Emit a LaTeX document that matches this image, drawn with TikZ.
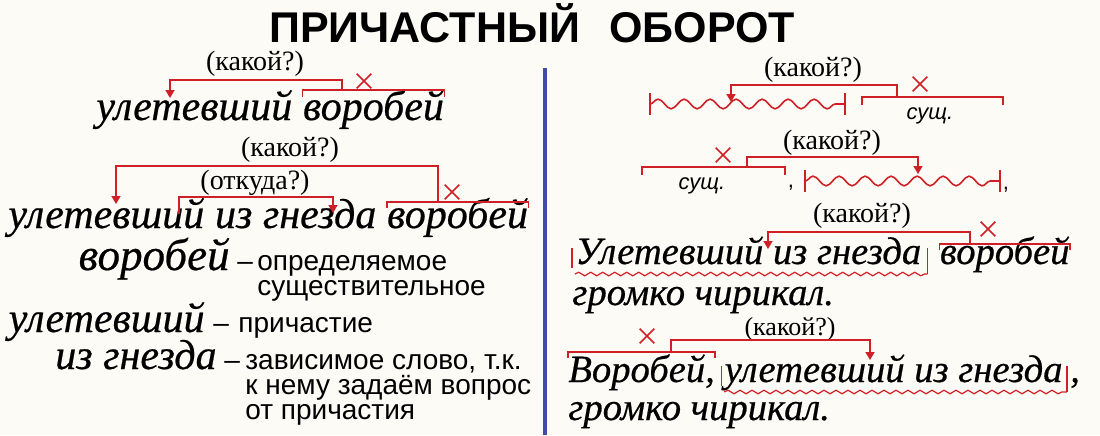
\documentclass[tikz,border=0pt]{standalone}
\usepackage{fontspec}
\setmainfont{Liberation Serif}
\setsansfont{Liberation Sans}
\newfontfamily\cursfont[FakeBold=0.5]{Liberation Serif}
\usetikzlibrary{arrows.meta,positioning,shapes.misc,decorations.pathmorphing}
\definecolor{mark}{RGB}{206,32,38}
\definecolor{divider}{RGB}{66,76,168}
\definecolor{paper}{RGB}{252,251,246}

\begin{document}
\begin{tikzpicture}[x=0.5pt,y=-0.5pt,
  word/.style={font=\cursfont\itshape\fontsize{21}{22}\selectfont,inner sep=0pt,anchor=base west},
  rword/.style={word,font=\cursfont\itshape\fontsize{19.3}{20}\selectfont},
  ask/.style={font=\fontsize{14}{15}\selectfont,inner sep=0pt},
  note/.style={font=\sffamily\fontsize{14}{12.5}\selectfont,inner sep=0pt,align=left},
  noun/.style={font=\sffamily\itshape\fontsize{11}{12}\selectfont,inner sep=0pt},
  link/.style={draw=mark,line width=0.8pt},
  tip/.style={-{Triangle[width=4.5pt,length=4pt]}},
  cross/.style={cross out,draw=mark,line width=0.8pt,minimum size=6.5pt,inner sep=0pt},
  wave/.style={link,decorate,decoration={snake,segment length=13pt,amplitude=2.4pt}},
  fine/.style={link,line width=0.6pt,decorate,decoration={snake,segment length=6pt,amplitude=0.9pt}}]

\useasboundingbox (0,0) rectangle (1100,435);
\fill[paper] (0,0) rectangle (1100,435);

\node[font=\sffamily\bfseries\fontsize{21.5}{24}\selectfont] (title) at (532,23) {ПРИЧАСТНЫЙ\hspace{0.4em} ОБОРОТ};
\coordinate (top) at (545,68);
\coordinate (bot) at (545,435);
\draw[divider,line width=1.6pt] (top) -- (bot);

% left: first scheme
\node[ask] (q1) at (255,64) {(какой?)};
\node[word] (u1) at (96,120) {улетевший};
\node[word,base right=5pt of u1] (v1) {воробей};
\draw[link] (v1.west |- 0,97) |- (v1.east |- 0,90) -- (v1.east |- 0,97);
\coordinate (d1) at (342,90);
\coordinate (t1) at (170,98);
\draw[link,tip] (d1) -- ++(0,-10) -| (t1);
\node[cross] (x1) at (364,81) {};

% left: second scheme
\node[ask] (q2) at (290,150) {(какой?)};
\node[ask] (q3) at (255,183) {(откуда?)};
\node[word] (u2) at (8,228) {улетевший};
\node[word,base right=5pt of u2] (g2) {из гнезда};
\node[word,base right=5pt of g2] (v2) {воробей};
\draw[link] (v2.west |- 0,208) |- (v2.east |- 0,202) -- (v2.east |- 0,208);
\coordinate (d2) at (438,202);
\coordinate (t2) at (116,204);
\draw[link,tip] (d2) -- ++(0,-36) -| (t2);
\node[cross] (x2) at (452,192) {};
\coordinate (s3) at (179,214);
\coordinate (t3) at (333,213);
\draw[link,tip] (s3) -- ++(0,-17) -| (t3);

% left: parts
\node[word,anchor=base east,font=\cursfont\itshape\fontsize{22.5}{24}\selectfont] (v3) at (230,270) {воробей};
\node[note,anchor=base west] (m3) at (237,270) {–};
\node[note,anchor=north west] (n3) at (257,255) {определяемое\\существительное};
\node[word,anchor=base east] (u4) at (205,332) {улетевший};
\node[note,anchor=base west] (m4) at (213,332) {–};
\node[note,anchor=base west] (n4) at (238,332) {причастие};
\node[word,anchor=base east] (g4) at (217,369) {из гнезда};
\node[note,anchor=base west] (m5) at (224,369) {–};
\node[note,anchor=north west] (n5) at (245,354) {зависимое слово, т.к.\\к нему задаём вопрос\\от причастия};

% right: first pattern
\node[ask] (q4) at (813,70) {(какой?)};
\coordinate (w1a) at (650,104);
\coordinate (w1b) at (845,104);
\draw[wave] (w1a) -- (w1b);
\draw[link] ([yshift=5.5pt]w1a) -- ([yshift=-5.5pt]w1a);
\draw[link] ([yshift=5.5pt]w1b) -- ([yshift=-5.5pt]w1b);
\node[noun] (n1) at (930,116) {сущ.};
\draw[link] (862,105) |- (1003,97) -- (1003,105);
\coordinate (d4) at (897,97);
\coordinate (t4) at (731,102);
\draw[link,tip] (d4) -- ++(0,-12) -| (t4);
\node[cross] (x4) at (920,84) {};

% right: second pattern
\node[ask] (q5) at (832,143) {(какой?)};
\node[noun] (n2) at (702,186) {сущ.};
\draw[link] (642,175) |- (785,167) -- (785,175);
\node[noun,font=\sffamily\fontsize{11}{12}\selectfont] (c1) at (791,188) {,};
\coordinate (w2a) at (805,181);
\coordinate (w2b) at (1000,181);
\draw[wave] (w2a) -- (w2b);
\draw[link] ([yshift=5.5pt]w2a) -- ([yshift=-5.5pt]w2a);
\draw[link] ([yshift=5.5pt]w2b) -- ([yshift=-5.5pt]w2b);
\node[noun,font=\sffamily\fontsize{11}{12}\selectfont] (c2) at (1006,190) {,};
\coordinate (d5) at (747,167);
\coordinate (t5) at (918,174);
\draw[link,tip] (d5) -- ++(0,-10) -| (t5);
\node[cross] (x5) at (723,155) {};

% right: first sentence
\node[ask] (q6) at (862,216) {(какой?)};
\node[rword] (u5) at (575,264) {Улетевший из гнезда};
\node[rword,base right=9pt of u5] (v5) {воробей};
\node[rword] (g5) at (572,305) {громко чирикал.};
\draw[fine] ([yshift=-5pt]u5.base west) -- ([xshift=3pt,yshift=-5pt]u5.base east);
\draw[link,line width=0.6pt] ([xshift=-1.5pt,yshift=8pt]u5.base west) -- ([xshift=-1.5pt,yshift=-2pt]u5.base west);
\draw[link,line width=0.6pt] ([xshift=3pt,yshift=8pt]u5.base east) -- ([xshift=3pt,yshift=-5pt]u5.base east);
\draw[link] (v5.west |- 0,250) |- (v5.east |- 0,244) -- (v5.east |- 0,250);
\coordinate (d6) at (970,244);
\coordinate (t6) at (768,249);
\draw[link,tip] (d6) -- ++(0,-12) -| (t6);
\node[cross] (x6) at (988,229) {};

% right: second sentence
\node[ask,font=\fontsize{13}{14}\selectfont] (q7) at (790,329) {(какой?)};
\node[rword] (v7) at (568,382) {Воробей,};
\node[rword,base right=4.5pt of v7] (u7) {улетевший из гнезда};
\node[rword,base right=3.5pt of u7] (c7) {,};
\node[rword] (g7) at (568,420) {громко чирикал.};
\draw[fine] ([yshift=-5pt]u7.base west) -- ([xshift=2pt,yshift=-5pt]u7.base east);
\draw[link,line width=0.6pt] ([xshift=-1.5pt,yshift=8pt]u7.base west) -- ([xshift=-1.5pt,yshift=-2pt]u7.base west);
\draw[link,line width=0.6pt] ([xshift=2pt,yshift=8pt]u7.base east) -- ([xshift=2pt,yshift=-5pt]u7.base east);
\draw[link] (v7.west |- 0,358) |- (v7.east |- 0,352) -- (v7.east |- 0,358);
\coordinate (d7) at (671,352);
\coordinate (t7) at (870,360);
\draw[link,tip] (d7) -- ++(0,-12) -| (t7);
\node[cross] (x7) at (647,336) {};

\end{tikzpicture}
\end{document}
